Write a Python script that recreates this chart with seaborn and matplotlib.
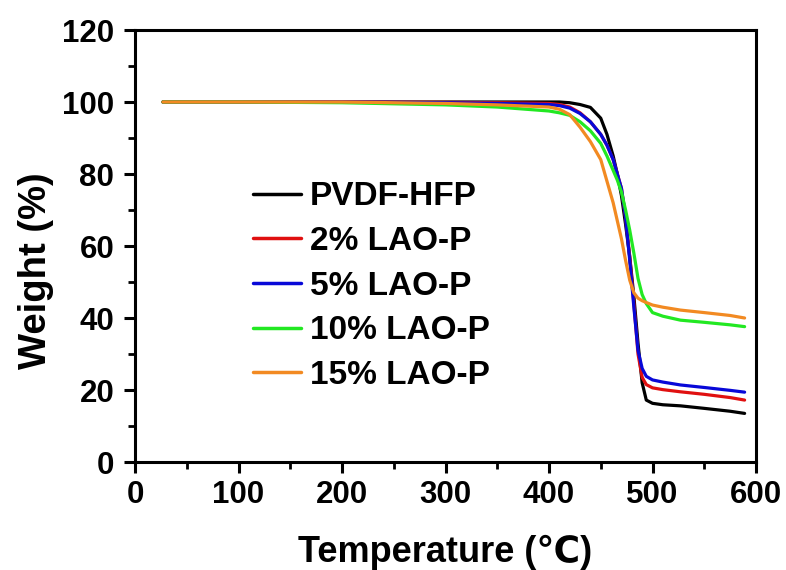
import numpy as np
import pandas as pd
import matplotlib
matplotlib.use("Agg")
import matplotlib.pyplot as plt
from matplotlib.ticker import MultipleLocator
import seaborn as sns

# Temperature points (°C)
temp = [27, 100, 200, 300, 350, 400, 410, 420, 430, 440, 450, 456, 462, 466, 470,
        474, 478, 482, 486, 490, 494, 500, 510, 527, 550, 575, 589]

pvdf = [100, 100, 100, 100, 100, 100, 100, 99.8, 99.3, 98.5, 95.5, 91, 85, 80, 74,
        66, 57, 46, 33, 22, 17.2, 16.3, 15.9, 15.6, 14.9, 14.1, 13.5]
lao2 = [100, 100, 100, 99.9, 99.8, 99.6, 99.3, 98.6, 97, 94.5, 91, 88, 84, 80, 76,
        68, 57, 44, 30, 23.5, 21.5, 20.6, 20.1, 19.5, 18.8, 17.9, 17.2]
lao5 = [100, 100, 100, 99.8, 99.6, 99.3, 99, 98.3, 96.8, 94.5, 91, 88, 84, 80, 76,
        68, 56, 43, 31, 26, 23.8, 22.8, 22.2, 21.4, 20.7, 19.9, 19.4]
lao10 = [100, 100, 99.8, 99.2, 98.6, 97.5, 97, 96.3, 94.5, 92, 88.5, 85, 81, 78.3, 75,
         70, 64.4, 58, 51, 46.5, 44, 41.5, 40.5, 39.4, 38.8, 38.1, 37.6]
lao15 = [100, 100, 100, 99.6, 99.2, 98.6, 98, 96.5, 93, 89, 84, 78, 72, 67, 62,
         56, 50.5, 47, 45.5, 44.8, 44.3, 43.6, 43, 42.2, 41.5, 40.7, 40]

series = ["PVDF-HFP", "2% LAO-P", "5% LAO-P", "10% LAO-P", "15% LAO-P"]
values = [pvdf, lao2, lao5, lao10, lao15]
colors = ["#000000", "#e01010", "#0808d8", "#22e822", "#f28a22"]

df = pd.concat([pd.DataFrame({"Temperature": temp, "Weight": v, "Sample": s})
                for s, v in zip(series, values)], ignore_index=True)

sns.set_theme(style="ticks")
plt.rcParams["font.family"] = ["Liberation Sans", "DejaVu Sans"]
plt.rcParams["font.weight"] = "bold"
for k in ["text.color", "axes.labelcolor", "xtick.color", "ytick.color",
          "axes.edgecolor"]:
    plt.rcParams[k] = "black"

fig = plt.figure(figsize=(7.86, 5.70), dpi=100)
ax = fig.add_axes([135 / 786, 1 - 462 / 570, 621 / 786, 432 / 570])

sns.lineplot(data=df, x="Temperature", y="Weight", hue="Sample",
             palette=dict(zip(series, colors)), hue_order=series,
             linewidth=2.3, ax=ax, sort=False, estimator=None)

ax.set_xlim(0, 600)
ax.set_ylim(0, 120)
ax.xaxis.set_major_locator(MultipleLocator(100))
ax.xaxis.set_minor_locator(MultipleLocator(50))
ax.yaxis.set_major_locator(MultipleLocator(20))
ax.yaxis.set_minor_locator(MultipleLocator(10))

for sp in ax.spines.values():
    sp.set_linewidth(2.2)
    sp.set_color("black")
ax.tick_params(which="major", direction="out", length=8, width=2.2,
               labelsize=22.5, labelcolor="black", color="black", pad=5,
               top=False, right=False)
ax.tick_params(axis="y", which="major", pad=7)
ax.tick_params(which="minor", direction="out", length=5, width=2.0,
               color="black", top=False, right=False)
for lab in ax.get_xticklabels() + ax.get_yticklabels():
    lab.set_fontweight("bold")

ax.set_xlabel("Temperature (℃)", fontsize=26, fontweight="bold", labelpad=18,
              color="black")
ax.set_ylabel("Weight (%)", fontsize=27.5, fontweight="bold", color="black")
ax.yaxis.set_label_coords(-0.13, 0.444)

leg = ax.legend(loc="upper left", bbox_to_anchor=(0.19, 0.65), frameon=False,
                fontsize=24, handlelength=1.45, handletextpad=0.25,
                labelspacing=0.41, borderaxespad=0, borderpad=0)
for t in leg.get_texts():
    t.set_fontweight("bold")
    t.set_color("black")
for l in leg.get_lines():
    l.set_linewidth(2.5)

fig.savefig("out.png", dpi=100)
